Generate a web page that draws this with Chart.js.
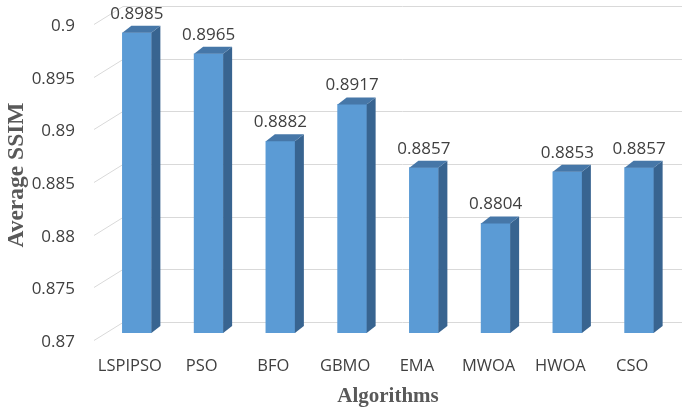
<!DOCTYPE html>
<html>
<head>
<meta charset="utf-8">
<script src="https://cdn.jsdelivr.net/npm/chart.js@4.4.1/dist/chart.umd.min.js"></script>
<style>
html,body{margin:0;padding:0;background:#fff;}
#wrap{width:685px;height:413px;position:relative;}
</style>
</head>
<body>
<div id="wrap"><canvas id="c" width="685" height="413"></canvas></div>
<script>
const categories = ["LSPIPSO","PSO","BFO","GBMO","EMA","MWOA","HWOA","CSO"];
const ssimValues = [0.8985,0.8965,0.8882,0.8917,0.8857,0.8804,0.8853,0.8857];
const yTicks = [0.87,0.875,0.88,0.885,0.89,0.895,0.9];

const FRONT = '#5B9BD5', TOP = '#4677A8', SIDE = '#386490';
const DX = 9, DY = 7;

const threeD = {
  id: 'threeD',
  beforeDatasetsDraw(chart) {
    const ctx = chart.ctx, y = chart.scales.y;
    ctx.save();
    ctx.strokeStyle = '#D9D9D9';
    ctx.lineWidth = 1;
    yTicks.forEach(v => {
      const fy = Math.round(y.getPixelForValue(v) + 7) + 0.5;
      ctx.beginPath();
      ctx.moveTo(94, fy);
      ctx.lineTo(123, fy - 18);
      ctx.lineTo(682, fy - 18);
      ctx.stroke();
    });
    ctx.restore();
  },
  afterDatasetsDraw(chart) {
    const ctx = chart.ctx;
    const meta = chart.getDatasetMeta(0);
    ctx.save();
    meta.data.forEach((bar, i) => {
      const p = bar.getProps(['x','y','base','width'], true);
      const l = p.x - p.width/2, r = p.x + p.width/2, t = p.y, b = p.base;
      ctx.fillStyle = SIDE;
      ctx.beginPath();
      ctx.moveTo(r, t); ctx.lineTo(r+DX, t-DY); ctx.lineTo(r+DX, b-DY); ctx.lineTo(r, b);
      ctx.closePath(); ctx.fill();
      ctx.fillStyle = TOP;
      ctx.beginPath();
      ctx.moveTo(l, t); ctx.lineTo(l+DX, t-DY); ctx.lineTo(r+DX, t-DY); ctx.lineTo(r, t);
      ctx.closePath(); ctx.fill();
      ctx.fillStyle = '#404040';
      ctx.font = '17px "Open Sans"';
      ctx.textAlign = 'center';
      ctx.textBaseline = 'alphabetic';
      ctx.fillText(ssimValues[i].toFixed(4), p.x, t - 14);
    });
    ctx.restore();
  }
};

new Chart(document.getElementById('c'), {
  type: 'bar',
  data: {
    labels: categories,
    datasets: [{
      data: ssimValues,
      base: 0.87,
      backgroundColor: FRONT,
      borderWidth: 0,
      barThickness: 29,
      categoryPercentage: 1
    }]
  },
  options: {
    responsive: false,
    animation: false,
    devicePixelRatio: 1,
    layout: { padding: { top: 17, right: 10, left: 0, bottom: 0 } },
    plugins: { legend: { display: false }, tooltip: { enabled: false } },
    scales: {
      x: {
        grid: { display: false, drawTicks: false },
        border: { display: false },
        ticks: { color: '#404040', font: { family: 'Open Sans', size: 16.5 }, padding: 23, labelOffset: -7, maxRotation: 0, autoSkip: false },
        title: { display: true, text: 'Algorithms', color: '#595959', font: { family: 'Liberation Serif', size: 21, weight: 'bold' }, padding: { top: 0, bottom: 4 } },
        afterFit(s) { s.height = 80; s.paddingLeft = 0; s.paddingRight = 0; }
      },
      y: {
        min: 0.87, max: 0.9,
        afterBuildTicks(s) { s.ticks = yTicks.map(v => ({ value: v })); },
        grid: { display: false, drawTicks: false },
        border: { display: false },
        ticks: { color: '#404040', font: { family: 'Open Sans', size: 17 }, padding: 26, labelOffset: 9, callback: v => String(+v.toFixed(3)) },
        title: { display: true, text: 'Average SSIM', color: '#595959', font: { family: 'Liberation Serif', size: 23.5, weight: 'bold' }, padding: { top: 3, bottom: 0 } },
        afterFit(s) { s.width = 101; s.paddingTop = 0; s.paddingBottom = 0; }
      }
    }
  },
  plugins: [threeD]
});
</script>
</body>
</html>
